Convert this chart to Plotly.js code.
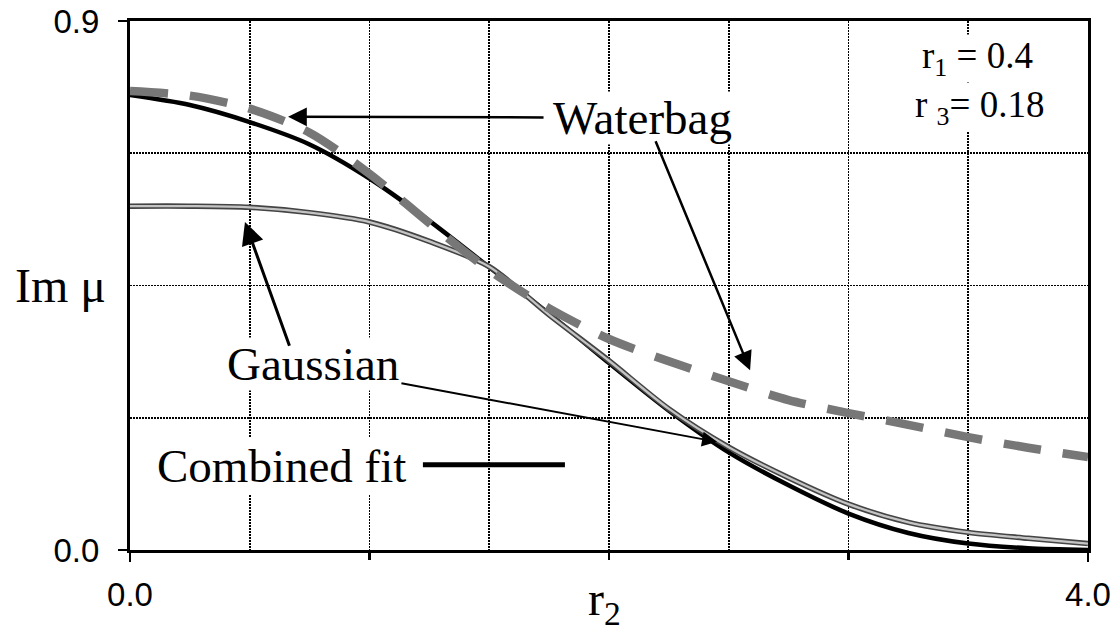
<!DOCTYPE html>
<html>
<head>
<meta charset="utf-8">
<script src="https://cdn.plot.ly/plotly-3.0.1.min.js"></script>
<style>html,body{margin:0;padding:0;background:#fff;}#chart{width:1113px;height:634px;}</style>
</head>
<body>
<div id="chart"></div>
<script>
// r2 sample positions
const r2 = [0, 0.25, 0.5, 0.75, 1.0, 1.25, 1.5, 1.75, 2.0, 2.25, 2.5, 2.75, 3.0, 3.25, 3.5, 3.75, 4.0];
// Im mu, combined fit (solid black)
const combinedFit = [0.774, 0.757, 0.728, 0.690, 0.632, 0.560, 0.481, 0.402, 0.318, 0.237, 0.166, 0.110, 0.062, 0.029, 0.011, 0.003, 0.0];
// Im mu, Gaussian (gray, thin)
const gaussian = [0.585, 0.585, 0.583, 0.574, 0.558, 0.525, 0.482, 0.400, 0.322, 0.240, 0.175, 0.123, 0.078, 0.047, 0.030, 0.020, 0.011];
// Im mu, Waterbag (gray, dashed)
const waterbag = [0.781, 0.773, 0.751, 0.710, 0.640, 0.556, 0.476, 0.411, 0.359, 0.321, 0.287, 0.255, 0.233, 0.213, 0.192, 0.174, 0.158];

const xLabelVals = [0, 4];
const xLabelText = ['0.0', '4.0'];
const xTickMarks = [1, 2, 3];
const yTickVals = [0, 0.9];
const yTickText = ['0.0', '0.9'];

const serif = 'Liberation Serif, Times New Roman, serif';
const sans = 'Liberation Sans, Arial, sans-serif';

const traces = [
  {x: r2, y: combinedFit, mode: 'lines', line: {color: '#000', width: 4.5, shape: 'spline', smoothing: 0.8}, hoverinfo: 'skip'},
  {x: r2, y: gaussian, mode: 'lines', line: {color: '#444', width: 5.5, shape: 'spline', smoothing: 0.8}, hoverinfo: 'skip'},
  {x: r2, y: gaussian, mode: 'lines', line: {color: '#c4c4c4', width: 2.3, shape: 'spline', smoothing: 0.8}, hoverinfo: 'skip'},
  {x: r2, y: waterbag, xaxis: 'x2', mode: 'lines', line: {color: '#777', width: 8.5, shape: 'spline', smoothing: 0.8, dash: '38px,22px'}, hoverinfo: 'skip'}
];

const gridStyle = {gridcolor: '#000', gridwidth: 1.8, griddash: '2px,1px'};

const arrowBase = {text: '', showarrow: true, arrowhead: 2, arrowsize: 1.5, arrowwidth: 2.5, arrowcolor: '#000', xref: 'x', yref: 'y', axref: 'x', ayref: 'y'};

const layout = {
  width: 1113, height: 634,
  margin: {l: 130, r: 25, t: 21, b: 84},
  paper_bgcolor: '#fff', plot_bgcolor: '#fff',
  showlegend: false,
  xaxis: {
    range: [0, 4], tickmode: 'array', tickvals: xLabelVals, ticktext: xLabelText,
    ticks: 'outside', ticklen: 9, tickwidth: 2.5, tickcolor: '#000',
    showline: true, linecolor: '#000', linewidth: 3, mirror: true,
    showgrid: false,
    minor: {tickmode: 'linear', tick0: 0, dtick: 0.5, ticks: '', showgrid: true, gridcolor: gridStyle.gridcolor, gridwidth: gridStyle.gridwidth, griddash: gridStyle.griddash},
    tickfont: {family: sans, size: 33, color: '#000'}, ticklabelstandoff: 4,
    zeroline: false, fixedrange: true
  },
  xaxis2: {
    range: [0, 4], overlaying: 'x', side: 'bottom', anchor: 'y',
    tickmode: 'array', tickvals: xTickMarks, showticklabels: false,
    ticks: 'outside', ticklen: 9, tickwidth: 2.5, tickcolor: '#000',
    showline: false, showgrid: false, zeroline: false, fixedrange: true
  },
  yaxis: {
    range: [0, 0.9], tickmode: 'array', tickvals: yTickVals, ticktext: yTickText,
    ticks: 'outside', ticklen: 9, tickwidth: 2.5, tickcolor: '#000',
    showline: true, linecolor: '#000', linewidth: 3, mirror: true,
    showgrid: false,
    minor: {tickmode: 'linear', tick0: 0, dtick: 0.225, ticks: '', showgrid: true, gridcolor: gridStyle.gridcolor, gridwidth: gridStyle.gridwidth, griddash: gridStyle.griddash},
    tickfont: {family: sans, size: 33, color: '#000'}, ticklabelstandoff: 12,
    zeroline: false, fixedrange: true
  },
  shapes: [
    {type: 'line', xref: 'x', yref: 'y', x0: 1.223, x1: 1.816, y0: 0.145, y1: 0.145, line: {color: '#000', width: 5}}
  ],
  annotations: [
    // Waterbag label and arrows
    {text: 'Waterbag', x: 2.138, y: 0.735, xref: 'x', yref: 'y', showarrow: false, bgcolor: '#fff', borderpad: 0, font: {family: serif, size: 47, color: '#000'}},
    Object.assign({}, arrowBase, {ax: 1.733, ay: 0.736, x: 0.660, y: 0.737}),
    Object.assign({}, arrowBase, {ax: 2.192, ay: 0.698, x: 2.589, y: 0.306}),
    // Gaussian label and arrows
    {text: 'Gaussian', x: 0.764, y: 0.316, xref: 'x', yref: 'y', showarrow: false, bgcolor: '#fff', borderpad: 0, font: {family: serif, size: 47, color: '#000'}},
    Object.assign({}, arrowBase, {ax: 0.668, ay: 0.345, x: 0.480, y: 0.558, arrowwidth: 3}),
    Object.assign({}, arrowBase, {ax: 1.127, ay: 0.284, x: 2.451, y: 0.184, arrowwidth: 2}),
    // Combined fit label
    {text: 'Combined fit', x: 0.631, y: 0.143, xref: 'x', yref: 'y', showarrow: false, bgcolor: '#fff', borderpad: 2, font: {family: serif, size: 47, color: '#000'}},
    // parameters
    {text: 'r<sub>1</sub> = 0.4', x: 3.537, y: 0.836, xref: 'x', yref: 'y', showarrow: false, bgcolor: '#fff', borderpad: 0, font: {family: serif, size: 37, color: '#000'}},
    {text: 'r <sub>3</sub>= 0.18', x: 3.545, y: 0.753, xref: 'x', yref: 'y', showarrow: false, bgcolor: '#fff', borderpad: 0, font: {family: serif, size: 37, color: '#000'}},
    // axis titles
    {text: 'Im \u03bc', x: -70 / 958, y: (550 - 285) / 529, xref: 'paper', yref: 'paper', showarrow: false, xanchor: 'center', yanchor: 'middle', font: {family: serif, size: 48, color: '#000'}},
    {text: 'r<sub>2</sub>', x: (604 - 130) / 958, y: -(602 - 550) / 529, xref: 'paper', yref: 'paper', showarrow: false, xanchor: 'center', yanchor: 'middle', font: {family: serif, size: 48, color: '#000'}}
  ]
};

Plotly.newPlot('chart', traces, layout, {staticPlot: true, displayModeBar: false});
</script>
</body>
</html>
